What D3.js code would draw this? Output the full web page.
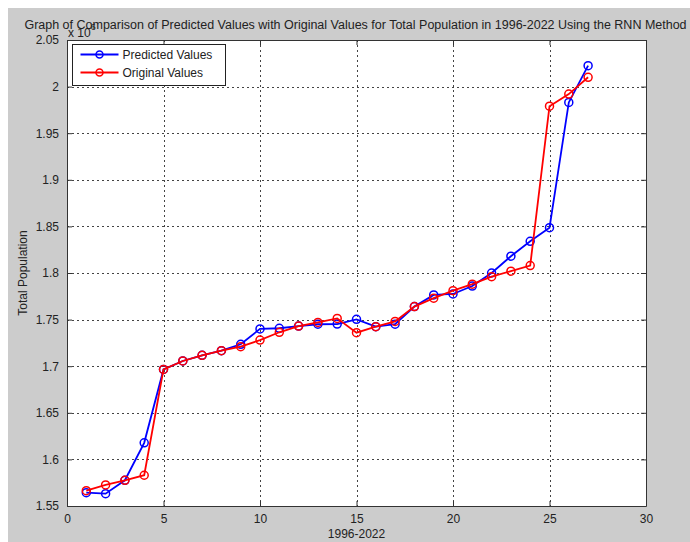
<!DOCTYPE html>
<html>
<head>
<meta charset="utf-8">
<script src="https://cdn.jsdelivr.net/npm/d3@7"></script>
<style>
  html, body { margin: 0; padding: 0; background: #ffffff; }
  svg { display: block; }
  text { font-family: "Liberation Sans", Arial, sans-serif; fill: #222; }
</style>
</head>
<body>
<div id="chart"></div>
<script>
// years are indexed 1..27 (1996-2022)
var years = d3.range(1, 28);

// total population
var predicted = [1564300, 1563200, 1577600, 1617800, 1696500, 1705600, 1711700, 1716700, 1723500,
  1740000, 1740700, 1743000, 1745000, 1745200, 1750300, 1742400, 1745000, 1764000, 1776500,
  1777500, 1786000, 1800000, 1818000, 1834000, 1848600, 1983000, 2022500];
var original = [1566400, 1572600, 1577600, 1583000, 1696500, 1705600, 1711700, 1716700, 1721000,
  1728000, 1736400, 1743000, 1747000, 1751300, 1736000, 1742400, 1748000, 1764000, 1773000,
  1781000, 1788000, 1796000, 1802000, 1808000, 1979000, 1992000, 2010000];

var xTicks = [0, 5, 10, 15, 20, 25, 30];
var yTicks = [1.55e6, 1.6e6, 1.65e6, 1.7e6, 1.75e6, 1.8e6, 1.85e6, 1.9e6, 1.95e6, 2e6, 2.05e6];

var seriesNames = ["Predicted Values", "Original Values"];
var seriesColors = ["#0000ff", "#ff0000"];

var width = 690, height = 542;
var plot = { left: 67, top: 40, right: 646, bottom: 506 };

var svg = d3.select("#chart").append("svg")
    .attr("width", width)
    .attr("height", height);

// figure background (grey, with a thin white strip top/left)
svg.append("rect").attr("x", 8).attr("y", 8)
    .attr("width", width - 8).attr("height", height - 8)
    .attr("fill", "#cccccc");

var x = d3.scaleLinear().domain([0, 30]).range([plot.left, plot.right]);
var y = d3.scaleLinear().domain([1.55e6, 2.05e6]).range([plot.bottom, plot.top]);

svg.append("rect")
    .attr("x", plot.left).attr("y", plot.top)
    .attr("width", plot.right - plot.left).attr("height", plot.bottom - plot.top)
    .attr("fill", "#ffffff");

// dotted grid
var grid = svg.append("g").attr("stroke", "#444").attr("stroke-width", 1)
    .attr("stroke-dasharray", "2,3").attr("shape-rendering", "crispEdges");
grid.selectAll(".gx").data(xTicks.slice(1, -1)).enter().append("line")
    .attr("x1", function(d) { return Math.round(x(d)) + 0.5; })
    .attr("x2", function(d) { return Math.round(x(d)) + 0.5; })
    .attr("y1", plot.top).attr("y2", plot.bottom);
grid.selectAll(".gy").data(yTicks.slice(1, -1)).enter().append("line")
    .attr("y1", function(d) { return Math.round(y(d)) + 0.5; })
    .attr("y2", function(d) { return Math.round(y(d)) + 0.5; })
    .attr("x1", plot.left).attr("x2", plot.right);

// axes with inward ticks on all four sides
var fmtY = function(d) { return d3.format("~g")(d / 1e6); };
var axes = [
  { gen: d3.axisBottom(x).tickValues(xTicks).tickSizeInner(-5).tickSizeOuter(0).tickPadding(8), t: "translate(0," + plot.bottom + ")" },
  { gen: d3.axisTop(x).tickValues(xTicks).tickSizeInner(-5).tickSizeOuter(0).tickFormat(""), t: "translate(0," + plot.top + ")" },
  { gen: d3.axisLeft(y).tickValues(yTicks).tickSizeInner(-5).tickSizeOuter(0).tickPadding(8).tickFormat(fmtY), t: "translate(" + plot.left + ",0)" },
  { gen: d3.axisRight(y).tickValues(yTicks).tickSizeInner(-5).tickSizeOuter(0).tickFormat(""), t: "translate(" + plot.right + ",0)" }
];
axes.forEach(function(a) {
  var g = svg.append("g").attr("transform", a.t).call(a.gen);
  g.select(".domain").attr("stroke", "#333");
  g.selectAll(".tick line").attr("stroke", "#333");
  g.selectAll(".tick text").attr("font-size", 12)
    .attr("font-family", "'Liberation Sans', Arial, sans-serif").attr("fill", "#222");
});

// data lines
var line = d3.line()
    .x(function(d) { return x(d[0]); })
    .y(function(d) { return y(d[1]); });

[predicted, original].forEach(function(vals, i) {
  var pts = years.map(function(yr, j) { return [yr, vals[j]]; });
  var g = svg.append("g");
  g.append("path").datum(pts)
    .attr("d", line)
    .attr("fill", "none")
    .attr("stroke", seriesColors[i])
    .attr("stroke-width", 1.8);
  g.selectAll("circle").data(pts).enter().append("circle")
    .attr("cx", function(d) { return x(d[0]); })
    .attr("cy", function(d) { return y(d[1]); })
    .attr("r", 4)
    .attr("fill", "none")
    .attr("stroke", seriesColors[i])
    .attr("stroke-width", 1.5);
});

// legend
var legend = svg.append("g").attr("transform", "translate(72.5,44.5)");
legend.append("rect").attr("width", 153).attr("height", 41)
    .attr("fill", "#ffffff").attr("stroke", "#222").attr("stroke-width", 1);
seriesNames.forEach(function(name, i) {
  var row = legend.append("g").attr("transform", "translate(0," + (10 + i * 18) + ")");
  row.append("line").attr("x1", 8).attr("x2", 46).attr("y1", 0).attr("y2", 0)
    .attr("stroke", seriesColors[i]).attr("stroke-width", 1.8);
  row.append("circle").attr("cx", 27).attr("cy", 0).attr("r", 3.5)
    .attr("fill", "none").attr("stroke", seriesColors[i]).attr("stroke-width", 1.5);
  row.append("text").attr("x", 50).attr("y", 4.5).attr("font-size", 12).text(name);
});

// title
svg.append("text")
    .attr("x", (plot.left + plot.right) / 2 - 1)
    .attr("y", 29)
    .attr("text-anchor", "middle")
    .attr("font-size", 12.5)
    .text("Graph of Comparison of Predicted Values with Original Values for Total Population in 1996-2022 Using the RNN Method");

// exponent label (overlaps the title, as in the original figure)
var expo = svg.append("text").attr("x", 68).attr("y", 37).attr("font-size", 12);
expo.append("tspan").text("x 10");
expo.append("tspan").attr("dy", -7).attr("font-size", 9).text("6");

// axis labels
svg.append("text")
    .attr("x", (plot.left + plot.right) / 2)
    .attr("y", 538)
    .attr("text-anchor", "middle")
    .attr("font-size", 12)
    .text("1996-2022");

svg.append("text")
    .attr("transform", "translate(27," + ((plot.top + plot.bottom) / 2) + ") rotate(-90)")
    .attr("text-anchor", "middle")
    .attr("font-size", 12)
    .text("Total Population");
</script>
</body>
</html>
